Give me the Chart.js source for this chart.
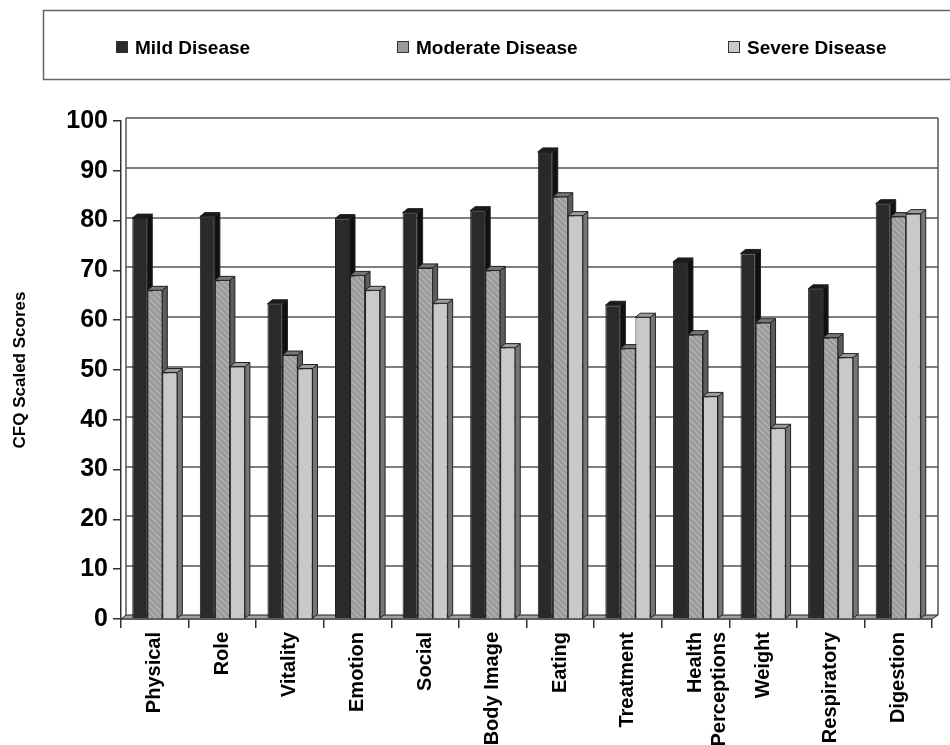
<!DOCTYPE html>
<html>
<head>
<meta charset="utf-8">
<script src="https://cdn.jsdelivr.net/npm/chart.js@4.4.1/dist/chart.umd.min.js"></script>
<style>
    body { margin: 0; background: #fff; }
    canvas { display: block; }
</style>
</head>
<body>
<canvas id="cfqChart" width="950" height="745"></canvas>
<script>
// chart data
const categories = ['Physical', 'Role', 'Vitality', 'Emotion', 'Social', 'Body Image', 'Eating',
    'Treatment', ['Health', 'Perceptions'], 'Weight', 'Respiratory', 'Digestion'];
const seriesNames = ['Mild Disease', 'Moderate Disease', 'Severe Disease'];
const mildScores = [80.5, 80.8, 63.3, 80.4, 81.6, 82.0, 93.8, 63.0, 71.7, 73.4, 66.3, 83.4];
const moderateScores = [66.0, 68.0, 53.0, 69.0, 70.5, 70.0, 84.8, 54.3, 57.1, 59.5, 56.5, 80.8];
const severeScores = [49.5, 50.7, 50.3, 66.0, 63.4, 54.5, 81.0, 60.6, 44.7, 38.3, 52.5, 81.4];
const yMin = 0;
const yMax = 100;
const yStep = 10;

const FONT = '"Liberation Sans", Arial, Helvetica, sans-serif';
const depthX = 5, depthY = 4;  // fake 3d offset of the columns

const canvas = document.getElementById('cfqChart');
const ctx = canvas.getContext('2d');

// light diagonal hatch used by the moderate series
function makeHatch() {
    const c = document.createElement('canvas');
    c.width = 6; c.height = 6;
    const g = c.getContext('2d');
    g.fillStyle = '#9a9a9a';
    g.fillRect(0, 0, 6, 6);
    g.strokeStyle = '#b3b3b3';
    g.lineWidth = 1.4;
    g.beginPath();
    g.moveTo(0, 0); g.lineTo(6, 6);
    g.moveTo(-3, 3); g.lineTo(3, 9);
    g.moveTo(3, -3); g.lineTo(9, 3);
    g.stroke();
    return ctx.createPattern(c, 'repeat');
}

const frontColors = ['#2a2a2a', makeHatch(), '#c9c9c9'];
const legendColors = ['#2a2a2a', '#9a9a9a', '#c9c9c9'];
const sideColors = ['#101010', '#5c5c5c', '#767676'];
const topColors = ['#1a1a1a', '#767676', '#9c9c9c'];

function poly(c, pts, fill) {
    c.beginPath();
    c.moveTo(pts[0][0], pts[0][1]);
    for (let i = 1; i < pts.length; i++) c.lineTo(pts[i][0], pts[i][1]);
    c.closePath();
    c.fillStyle = fill;
    c.fill();
    c.strokeStyle = '#222';
    c.lineWidth = 1;
    c.stroke();
}

// back wall, floor and the top/side faces of the columns
const columns3d = {
    id: 'columns3d',
    beforeDatasetsDraw(chart) {
        const c = chart.ctx;
        const a = chart.chartArea;
        const y = chart.scales.y;
        c.save();
        c.strokeStyle = '#555';
        c.lineWidth = 1.5;
        y.ticks.forEach(t => {
            const py = Math.round(y.getPixelForValue(t.value)) - depthY + 1;
            if (t.value === yMin) return;
            c.beginPath();
            c.moveTo(a.left + depthX, py);
            c.lineTo(a.right + depthX + 1, py);
            c.stroke();
        });
        const topY = Math.round(y.getPixelForValue(yMax)) - depthY + 1;
        c.beginPath();
        c.moveTo(a.left + depthX, topY);
        c.lineTo(a.left + depthX, a.bottom - depthY);
        c.moveTo(a.right + depthX + 1, topY);
        c.lineTo(a.right + depthX + 1, a.bottom - depthY);
        c.stroke();
        // floor
        poly(c, [[a.left, a.bottom], [a.right, a.bottom], [a.right + depthX + 1, a.bottom - depthY],
            [a.left + depthX, a.bottom - depthY]], '#a0a0a0');

        chart.data.datasets.forEach((ds, i) => {
            chart.getDatasetMeta(i).data.forEach(bar => {
                const p = bar.getProps(['x', 'y', 'base', 'width'], true);
                const l = p.x - p.width / 2, r = p.x + p.width / 2;
                poly(c, [[r, p.y], [r + depthX, p.y - depthY], [r + depthX, p.base - depthY], [r, p.base]], sideColors[i]);
                poly(c, [[l, p.y], [r, p.y], [r + depthX, p.y - depthY], [l + depthX, p.y - depthY]], topColors[i]);
            });
        });
        c.restore();
    }
};

// boxed legend across the top
const legendPos = [116, 397, 728];
const boxedLegend = {
    id: 'boxedLegend',
    afterDraw(chart) {
        const c = chart.ctx;
        c.save();
        c.strokeStyle = '#666';
        c.lineWidth = 1.5;
        c.strokeRect(43.5, 10.5, 930, 69);
        c.font = 'bold 19px ' + FONT;
        c.textBaseline = 'alphabetic';
        chart.data.datasets.forEach((ds, i) => {
            const x = legendPos[i];
            c.fillStyle = legendColors[i];
            c.fillRect(x, 41, 12, 12);
            c.strokeStyle = '#333';
            c.lineWidth = 1;
            c.strokeRect(x + 0.5, 41.5, 11, 11);
            c.fillStyle = '#000';
            c.fillText(ds.label, x + 19, 54);
        });
        c.restore();
    }
};

const seriesValues = [mildScores, moderateScores, severeScores];

new Chart(ctx, {
    type: 'bar',
    data: {
        labels: categories,
        datasets: seriesNames.map((name, i) => ({
            label: name,
            data: seriesValues[i],
            backgroundColor: frontColors[i],
            borderColor: '#222',
            borderWidth: 1,
            categoryPercentage: 0.667,
            barPercentage: 1.0
        }))
    },
    options: {
        responsive: false,
        animation: false,
        layout: {
            padding: { top: 121, right: 18, left: 0, bottom: 0 }
        },
        plugins: {
            legend: { display: false },
            tooltip: { enabled: false }
        },
        scales: {
            x: {
                grid: {
                    display: true,
                    drawOnChartArea: false,
                    drawTicks: true,
                    tickLength: 9,
                    offset: true,
                    color: '#333',
                    lineWidth: 1.5
                },
                border: { display: true, color: '#333', width: 1.5 },
                ticks: {
                    color: '#000',
                    font: { family: FONT, size: 20, weight: 'bold' },
                    maxRotation: 90,
                    minRotation: 90,
                    autoSkip: false,
                    padding: 4
                },
                afterFit(scale) { scale.height = 126; }
            },
            y: {
                min: yMin,
                max: yMax,
                ticks: {
                    stepSize: yStep,
                    color: '#000',
                    font: { family: FONT, size: 25, weight: 'bold' },
                    padding: 5
                },
                grid: {
                    drawOnChartArea: false,
                    tickLength: 8,
                    color: '#333',
                    lineWidth: 1.5
                },
                border: { display: true, color: '#333', width: 1.5 },
                title: {
                    display: true,
                    text: 'CFQ Scaled Scores',
                    color: '#000',
                    font: { family: FONT, size: 17, weight: 'bold' },
                    padding: { top: 10, bottom: 0 }
                },
                afterFit(scale) { scale.width = 121; }
            }
        }
    },
    plugins: [columns3d, boxedLegend]
});
</script>
</body>
</html>
